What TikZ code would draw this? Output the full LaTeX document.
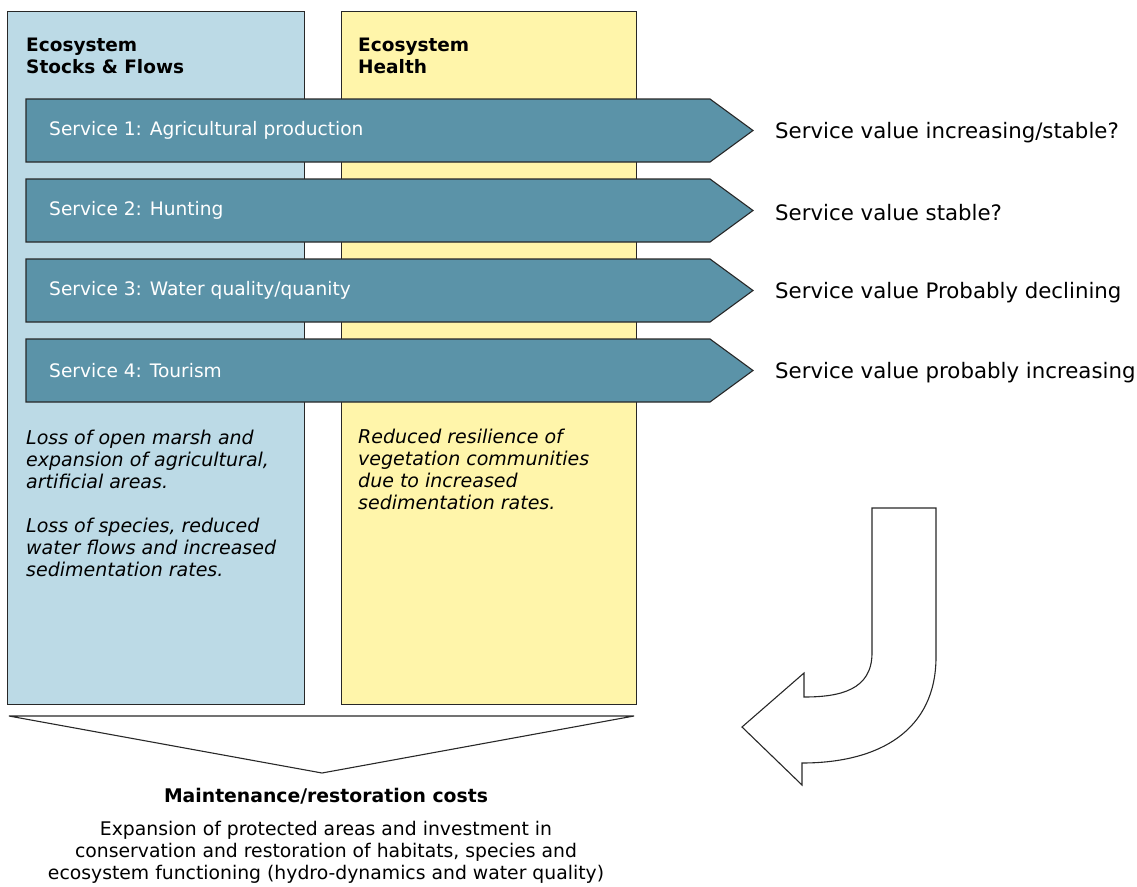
\documentclass[tikz,border=0pt]{standalone}
\usepackage{fontspec}
\setmainfont{DejaVu Sans}
\definecolor{boxblue}{RGB}{188,218,230}
\definecolor{boxyellow}{RGB}{255,245,170}
\definecolor{svcfill}{RGB}{91,147,168}
\definecolor{edge}{RGB}{40,40,40}
\begin{document}
\begin{tikzpicture}[x=1pt,y=-1pt,
  panel/.style={draw=edge,line width=1.1pt,anchor=north west,inner sep=0pt,minimum width=#1},
  svc/.style={draw=edge,line width=1.1pt,fill=svcfill},
  svclabel/.style={anchor=west,inner sep=0pt,text=white,font=\fontsize{18.6}{22}\selectfont},
  vallabel/.style={anchor=west,inner sep=0pt,font=\fontsize{21.3}{25}\selectfont},
  head/.style={anchor=base west,inner sep=0pt,align=left,font=\fontsize{18.5}{22}\selectfont\bfseries},
  note/.style={anchor=base west,inner sep=0pt,align=left,font=\fontsize{19}{22}\selectfont\itshape},
  bottom/.style={anchor=base,inner sep=0pt,align=center,font=\fontsize{18.8}{22}\selectfont},
  outline/.style={draw=edge,line width=1.1pt,fill=white,line join=miter}]
\useasboundingbox (0,0) rectangle (1137,886);
% panels
\node[panel=297pt,minimum height=693pt,fill=boxblue] (stocks) at (7,11) {};
\node[panel=295pt,minimum height=693pt,fill=boxyellow] (health) at (341,11) {};
% headers (anchor = baseline of last line)
\node[head] (hstocks) at (26,73) {Ecosystem\\Stocks \& Flows};
\node[head] (hhealth) at (358,73) {Ecosystem\\Health};
% service arrows
\foreach \i/\t/\v in {0/{Service 1: Agricultural production}/{Service value increasing/stable?},
                      1/{Service 2: Hunting}/{Service value stable?},
                      2/{Service 3: Water quality/quanity}/{Service value Probably declining},
                      3/{Service 4: Tourism}/{Service value probably increasing}}{
  \pgfmathsetmacro{\yt}{99+80*\i}
  \pgfmathsetmacro{\yb}{162+80*\i}
  \pgfmathsetmacro{\ym}{130.5+80*\i}
  \draw[svc] (26,\yt) -- (710,\yt) -- (753,\ym) -- (710,\yb) -- (26,\yb) -- cycle;
  \node[svclabel] (svc\i) at (49,\ym) {\t};
  \node[vallabel] (val\i) at (775,\ym+2) {\v};
}
% notes (anchor = baseline of last line)
\node[note] (nstocks) at (26,576) {Loss of open marsh and\\expansion of agricultural,\\artificial areas.\\[22pt]Loss of species, reduced\\water flows and increased\\sedimentation rates.};
\node[note] (nhealth) at (358,509) {Reduced resilience of\\vegetation communities\\due to increased\\sedimentation rates.};
% chevron
\draw[draw=edge,line width=1.1pt] (9,716) -- (634,716) -- (322,773) -- cycle;
\node[bottom,font=\fontsize{18.8}{22}\selectfont\bfseries] (costs) at (326,802) {Maintenance/restoration costs};
\node[bottom] (costtext) at (326,879) {Expansion of protected areas and investment in\\conservation and restoration of habitats, species and\\ecosystem functioning (hydro-dynamics and water quality)};
% curved arrow
\draw[outline] (872,508) -- (936,508) -- (936,657)
  .. controls (936,730) and (880,763) .. (802,763)
  -- (802,785) -- (742,727) -- (804,673) -- (804,697)
  .. controls (840,697) and (872,690) .. (872,653) -- cycle;
\end{tikzpicture}
\end{document}
